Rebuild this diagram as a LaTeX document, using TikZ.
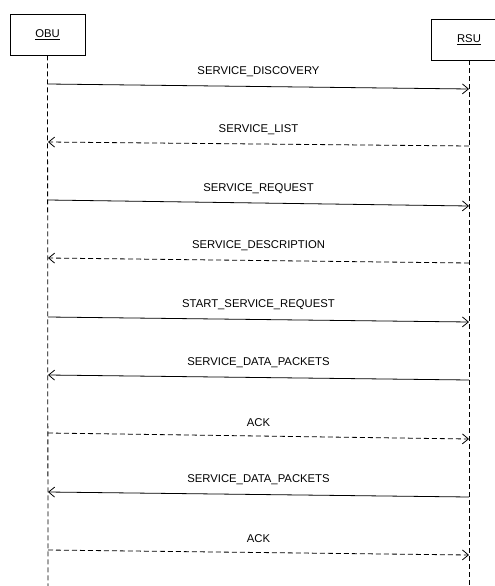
\documentclass[tikz,border=0pt]{standalone}
\usepackage{fontspec}
\setmainfont{Liberation Sans}
\usetikzlibrary{arrows.meta}

\begin{document}
\begin{tikzpicture}[
    x=1pt, y=-1pt,
    font=\fontsize{11.3}{13}\selectfont,
    line width=0.8pt,
    actor/.style={draw, minimum width=75pt, minimum height=41pt, inner sep=0pt},
    life/.style={dashed, dash pattern=on 5pt off 3pt},
    msg/.style={-{Straight Barb[length=6pt, width=10pt]}},
    reply/.style={msg, dash pattern=on 5pt off 3pt},
    lbl/.style={midway, above=8pt, inner sep=1pt}
  ]
    \useasboundingbox (0,0) rectangle (495,586);
    % participants
    \node[actor] (obu) at (47.5,34.5) {\underline{OBU}};
    \node[actor] (rsu) at (469,39.5) {\underline{RSU}};
    \coordinate (obuend) at (48,586);
    \coordinate (rsuend) at (469,586);
    \draw[life] (obu.south) -- (obuend);
    \draw[life] (rsu.south) -- (rsuend);
    % message ends on the lifelines
    \foreach \i/\a/\b in {1/84/89, 2/142/146, 3/200/206, 4/258/263, 5/317/322,
                          6/375/380, 7/433/439, 8/492/497, 9/550/555} {
      \coordinate (o\i) at (48,\a);
      \coordinate (r\i) at (469,\b);
    }
    % messages
    \draw[msg] (o1) -- node[lbl] {SERVICE\_DISCOVERY} (r1);
    \draw[reply] (r2) -- node[lbl] {SERVICE\_LIST} (o2);
    \draw[msg] (o3) -- node[lbl] {SERVICE\_REQUEST} (r3);
    \draw[reply] (r4) -- node[lbl] {SERVICE\_DESCRIPTION} (o4);
    \draw[msg] (o5) -- node[lbl] {START\_SERVICE\_REQUEST} (r5);
    \draw[msg] (r6) -- node[lbl] {SERVICE\_DATA\_PACKETS} (o6);
    \draw[reply] (o7) -- node[lbl] {ACK} (r7);
    \draw[msg] (r8) -- node[lbl] {SERVICE\_DATA\_PACKETS} (o8);
    \draw[reply] (o9) -- node[lbl] {ACK} (r9);
  \end{tikzpicture}
\end{document}
